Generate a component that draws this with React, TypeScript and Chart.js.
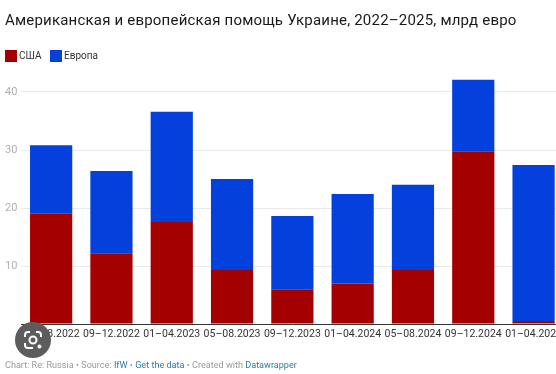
import React, { useEffect, useRef } from "react";
import { Chart, registerables } from "chart.js";

Chart.register(...registerables);

const categories = ["05–08.2022", "09–12.2022", "01–04.2023", "05–08.2023", "09–12.2023", "01–04.2024", "05–08.2024", "09–12.2024", "01–04.2025"];
const usa = [19, 12.2, 17.6, 9.3, 6, 7, 9.3, 29.8, 0.5];
const europe = [11.8, 14.2, 19, 15.7, 12.6, 15.4, 14.7, 12.3, 26.9];

const RED = "#a50000";
const BLUE = "#0340dc";
const FONT = "Roboto, sans-serif";

export default function App() {
  const ref = useRef<HTMLCanvasElement>(null);
  useEffect(() => {
    const chart = new Chart(ref.current!, {
      type: "bar",
      data: {
        labels: categories,
        datasets: [
          { label: "США", data: usa, backgroundColor: RED, stack: "a", categoryPercentage: 1, barPercentage: 0.7 },
          { label: "Европа", data: europe, backgroundColor: BLUE, stack: "a", categoryPercentage: 1, barPercentage: 0.7 },
        ],
      },
      options: {
        animation: false,
        responsive: false,
        layout: { padding: { left: 5, top: 34, right: 0, bottom: 0 } },
        plugins: { legend: { display: false }, title: { display: false }, tooltip: { enabled: false } },
        scales: {
          x: {
            stacked: true,
            afterFit: (s: any) => { s.height = 50; },
            grid: { display: false, drawTicks: false },
            border: { display: true, color: "#333333", width: 1 },
            ticks: { color: "#333333", font: { family: FONT, size: 10.5 }, maxRotation: 0, autoSkip: false, padding: 4 },
          },
          y: {
            stacked: true,
            min: 0,
            max: 50,
            afterFit: (s: any) => { s.width = 16; },
            border: { display: false },
            grid: {
              drawTicks: false,
              color: (c: any) => (c.tick && c.tick.value > 0 && c.tick.value < 50 ? "#e9e9e9" : "rgba(0,0,0,0)"),
            },
            ticks: {
              stepSize: 10,
              color: "#b0b0b0",
              crossAlign: "far",
              padding: 0,
              font: { family: FONT, size: 11 },
              callback: (v: any) => (v > 0 && v < 50 ? String(v) : ""),
            },
          },
        },
      },
    } as any);
    return () => chart.destroy();
  }, []);

  const swatch = (c: string): React.CSSProperties => ({ position: "absolute", top: 50, width: 12, height: 12, background: c });
  const legendText: React.CSSProperties = { position: "absolute", top: 49, font: `10px ${FONT}`, color: "#333", lineHeight: "14px" };
  const link: React.CSSProperties = { color: "#2b7f9e" };

  return (
    <div style={{ position: "fixed", left: 0, top: 0, width: 556, height: 374, overflow: "hidden", background: "#fff" }}>
      <canvas ref={ref} width={566} height={374} style={{ position: "absolute", left: 0, top: 0, width: 566, height: 374 }} />
      <div style={{ position: "absolute", left: 5, top: 9, font: `15px ${FONT}`, letterSpacing: "0.2px", color: "#1a1a1a", whiteSpace: "nowrap", lineHeight: "22px" }}>
        Американская и европейская помощь Украине, 2022–2025, млрд евро
      </div>
      <div style={{ ...swatch(RED), left: 5 }} />
      <div style={{ ...legendText, left: 19 }}>США</div>
      <div style={{ ...swatch(BLUE), left: 50 }} />
      <div style={{ ...legendText, left: 64 }}>Европа</div>
      <div style={{ position: "absolute", left: 5, top: 358, font: `9.1px ${FONT}`, color: "#9a9a9a", whiteSpace: "nowrap", lineHeight: "14px" }}>
        Chart: Re: Russia • Source: <span style={link}>IfW</span> • <span style={link}>Get the data</span> • Created with <span style={link}>Datawrapper</span>
      </div>
      <div style={{ position: "absolute", left: 15, top: 322, width: 36, height: 36, borderRadius: 18, background: "#5c5c5c" }}>
        <svg width="36" height="36" viewBox="0 0 36 36" fill="none">
          <path d="M10 15 V13 Q10 10 13 10 H15 M21 10 H23 Q26 10 26 13 V15 M10 21 V23 Q10 26 13 26 H18" stroke="#fff" strokeWidth="2" />
          <circle cx="18" cy="18" r="3.5" stroke="#fff" strokeWidth="2" />
          <circle cx="24.5" cy="24.5" r="2" fill="#fff" />
        </svg>
      </div>
    </div>
  );
}
